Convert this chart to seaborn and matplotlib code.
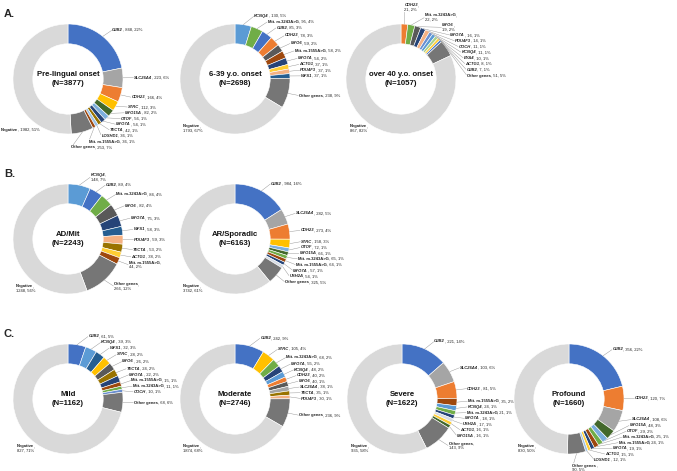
import numpy as np
import matplotlib
matplotlib.use("Agg")
import matplotlib.pyplot as plt
import seaborn as sns
from matplotlib.offsetbox import TextArea, HPacker, VPacker, AnnotationBbox

sns.set_theme(style="white")
plt.rcParams["font.family"] = ["Liberation Sans", "DejaVu Sans"]

# ---- data ----
pre_genes = ["GJB2", "SLC26A4", "CDH23", "STRC", "MYO15A", "OTOF", "MYO7A", "TECTA",
             "LOXHD1", "Mit. m.1555A>G", "Other genes", "Negative"]
pre_n = [848, 223, 166, 112, 82, 56, 54, 42, 36, 36, 253, 1982]
pre_pct = [22, 6, 4, 3, 2, 1, 1, 1, 1, 1, 7, 51]

mid_genes = ["KCNQ4", "Mit. m.3243A>G", "GJB2", "CDH23", "MYO6", "Mit. m.1555A>G", "MYO7A",
             "ACTG1", "POU4F3", "WFS1", "Other genes", "Negative"]
mid_n = [130, 95, 85, 78, 59, 58, 54, 37, 37, 37, 238, 1793]
mid_pct = [5, 4, 3, 3, 2, 2, 2, 1, 1, 1, 9, 67]

late_genes = ["CDH23", "Mit. m.3243A>G", "MYO6", "MYO7A", "POU4F3", "COCH", "KCNQ4", "EYA4",
              "ACTG1", "GJB2", "Other genes", "Negative"]
late_n = [21, 22, 19, 16, 14, 11, 11, 10, 8, 7, 51, 867]
late_pct = [2, 2, 2, 1, 1, 1, 1, 1, 1, 1, 5, 82]

ad_genes = ["KCNQ4", "GJB2", "Mit. m.3243A>G", "MYO6", "MYO7A", "WFS1", "POU4F3", "TECTA",
            "ACTG1", "Mit. m.1555A>G", "Other genes", "Negative"]
ad_n = [148, 89, 84, 82, 75, 58, 59, 53, 38, 44, 266, 1248]
ad_pct = [7, 4, 4, 4, 3, 3, 3, 2, 2, 2, 12, 56]

ar_genes = ["GJB2", "SLC26A4", "CDH23", "STRC", "OTOF", "MYO15A", "Mit. m.3243A>G",
            "Mit. m.1555A>G", "MYO7A", "USH2A", "Other genes", "Negative"]
ar_n = [984, 282, 273, 158, 72, 66, 65, 64, 57, 54, 325, 3742]
ar_pct = [16, 5, 4, 3, 1, 1, 1, 1, 1, 1, 5, 61]

mild_genes = ["GJB2", "KCNQ4", "WFS1", "STRC", "MYO6", "TECTA", "MYO7A", "Mit. m.1555A>G",
              "Mit. m.3243A>G", "COCH", "Other genes", "Negative"]
mild_n = [61, 39, 32, 28, 26, 24, 22, 15, 11, 10, 68, 827]
mild_pct = [5, 3, 3, 2, 2, 2, 2, 1, 1, 1, 6, 71]

mod_genes = ["GJB2", "STRC", "Mit. m.3243A>G", "MYO7A", "KCNQ4", "CDH23", "MYO6", "SLC26A4",
             "TECTA", "POU4F3", "Other genes", "Negative"]
mod_n = [242, 105, 68, 55, 48, 40, 40, 38, 35, 30, 236, 1874]
mod_pct = [9, 4, 2, 2, 2, 2, 1, 1, 1, 1, 9, 68]

sev_genes = ["GJB2", "SLC26A4", "CDH23", "Mit. m.1555A>G", "KCNQ4", "Mit. m.3243A>G", "MYO7A",
             "USH2A", "ACTG1", "MYO15A", "Other genes", "Negative"]
sev_n = [221, 103, 81, 35, 24, 21, 18, 17, 16, 16, 143, 935]
sev_pct = [14, 6, 5, 2, 1, 1, 1, 1, 1, 1, 9, 58]

pro_genes = ["GJB2", "CDH23", "SLC26A4", "MYO15A", "OTOF", "Mit. m.3243A>G", "Mit. m.1555A>G",
             "MYO7A", "ACTG1", "LOXHD1", "Other genes", "Negative"]
pro_n = [356, 120, 108, 48, 29, 25, 24, 19, 15, 12, 90, 830]
pro_pct = [22, 7, 6, 3, 2, 1, 1, 1, 1, 1, 5, 50]

# ---- styling ----
gene_colors = {
    "GJB2": "#4472C4", "SLC26A4": "#A5A5A5", "CDH23": "#ED7D31", "STRC": "#FFC000",
    "MYO15A": "#43682B", "OTOF": "#7CAFDD", "MYO7A": "#264478", "TECTA": "#997300",
    "LOXHD1": "#9DC3E6", "Mit. m.1555A>G": "#9E480E", "Mit. m.3243A>G": "#70AD47",
    "KCNQ4": "#5B9BD5", "MYO6": "#595959", "ACTG1": "#FFCD33", "POU4F3": "#F4B183",
    "WFS1": "#255E91", "COCH": "#698ED0", "EYA4": "#A9D18E", "USH2A": "#D6DCE5",
    "Other genes": "#767676", "Negative": "#D9D9D9",
}

W, H = 677, 471
R_PX = 55
S = 170
FS = 3.0
fig = plt.figure(figsize=(W / 100, H / 100), dpi=100)


def make_label(name, count, pct, split):
    plain = dict(fontsize=FS, color="#222222")
    italic = not (name.startswith("Mit") or name in ("Other genes", "Negative"))
    bold = dict(fontsize=FS, color="#222222", fontweight="bold",
                fontstyle="italic" if italic else "normal")
    nm = TextArea(name, textprops=bold)
    if split:
        top = HPacker(children=[nm, TextArea(",", textprops=plain)], pad=0, sep=0)
        return VPacker(children=[top, TextArea(f"{count}, {pct}%", textprops=plain)],
                       pad=0, sep=0.3, align="left"), 0.15
    return HPacker(children=[nm, TextArea(f", {count}, {pct}%", textprops=plain)],
                   pad=0, sep=0), 0.075


def spread(ys, hs, lo, hi, pad=0.03):
    ys = list(ys)
    for _ in range(400):
        moved = False
        for i in range(1, len(ys)):
            need = (hs[i - 1] + hs[i]) / 2 + pad
            d = ys[i - 1] - ys[i]
            if d < need - 1e-6:
                shift = (need - d) / 2
                ys[i - 1] += shift
                ys[i] -= shift
                moved = True
        ys = [min(max(y, lo), hi) for y in ys]
        if not moved:
            break
    return ys


def donut(cx, cy, title, genes, counts, pcts, split=()):
    ax = fig.add_axes([(cx - S / 2) / W, (H - cy - S / 2) / H, S / W, S / H])
    ax.pie(counts, colors=[gene_colors[g] for g in genes], startangle=90,
           counterclock=False, radius=1,
           wedgeprops=dict(width=0.36, edgecolor="white", linewidth=0.4))
    lim = S / 2 / R_PX
    ax.set_xlim(-lim, lim)
    ax.set_ylim(-lim, lim)
    ax.axis("off")
    ax.text(0, 0, title, ha="center", va="center", fontsize=5.6,
            fontweight="bold", linespacing=1.35, color="#111111")

    counts = np.array(counts, dtype=float)
    mids = np.radians((np.cumsum(counts) - counts / 2) / counts.sum() * 360)

    boxes, hs = zip(*[make_label(g, int(c), p, g in split)
                      for g, c, p in zip(genes[:-1], counts[:-1], pcts[:-1])])
    ys = spread(1.15 * np.cos(mids[:-1]), hs, -1.25, 1.3)
    for i, (box, y) in enumerate(zip(boxes, ys)):
        x = max(np.sqrt(max(1.2 ** 2 - y ** 2, 0)), 0.06)
        anchor = (np.sin(mids[i]), np.cos(mids[i]))
        ab = AnnotationBbox(box, anchor, xybox=(x, y), xycoords="data", boxcoords="data",
                            box_alignment=(0, 0.5), frameon=False, pad=0,
                            annotation_clip=False,
                            arrowprops=dict(arrowstyle="-", color="#8c8c8c", lw=0.3,
                                            shrinkA=0, shrinkB=0, relpos=(0, 0.5)))
        ax.add_artist(ab)

    # negative share, lower left
    two = genes[-1] in split
    box, h = make_label(genes[-1], int(counts[-1]), pcts[-1], two)
    a = np.radians(216 if two else 210)
    ab = AnnotationBbox(box, (1.02 * np.sin(a), 1.02 * np.cos(a)), xycoords="data",
                        box_alignment=(1, 1), frameon=False, pad=0, annotation_clip=False)
    ax.add_artist(ab)


donut(68, 79, "Pre-lingual onset\n(N=3877)", pre_genes, pre_n, pre_pct)
donut(235, 79, "6-39 y.o. onset\n(N=2698)", mid_genes, mid_n, mid_pct, split=("Negative",))
donut(401, 79, "over 40 y.o. onset\n(N=1057)", late_genes, late_n, late_pct,
      split=("Negative", "CDH23", "Mit. m.3243A>G", "MYO6"))
donut(68, 239, "AD/Mit\n(N=2243)", ad_genes, ad_n, ad_pct,
      split=("Negative", "KCNQ4", "Mit. m.1555A>G", "Other genes"))
donut(235, 239, "AR/Sporadic\n(N=6163)", ar_genes, ar_n, ar_pct, split=("Negative",))
donut(68, 399, "Mild\n(N=1162)", mild_genes, mild_n, mild_pct, split=("Negative",))
donut(235, 399, "Moderate\n(N=2746)", mod_genes, mod_n, mod_pct, split=("Negative",))
donut(402, 399, "Severe\n(N=1622)", sev_genes, sev_n, sev_pct,
      split=("Negative", "Other genes"))
donut(569, 399, "Profound\n(N=1660)", pro_genes, pro_n, pro_pct,
      split=("Negative", "Other genes"))

for letter, ypix in [("A.", 17), ("B.", 177), ("C.", 337)]:
    fig.text(4 / W, 1 - ypix / H, letter, fontsize=8, fontweight="bold", va="baseline")

fig.savefig("out.png", dpi=100)
